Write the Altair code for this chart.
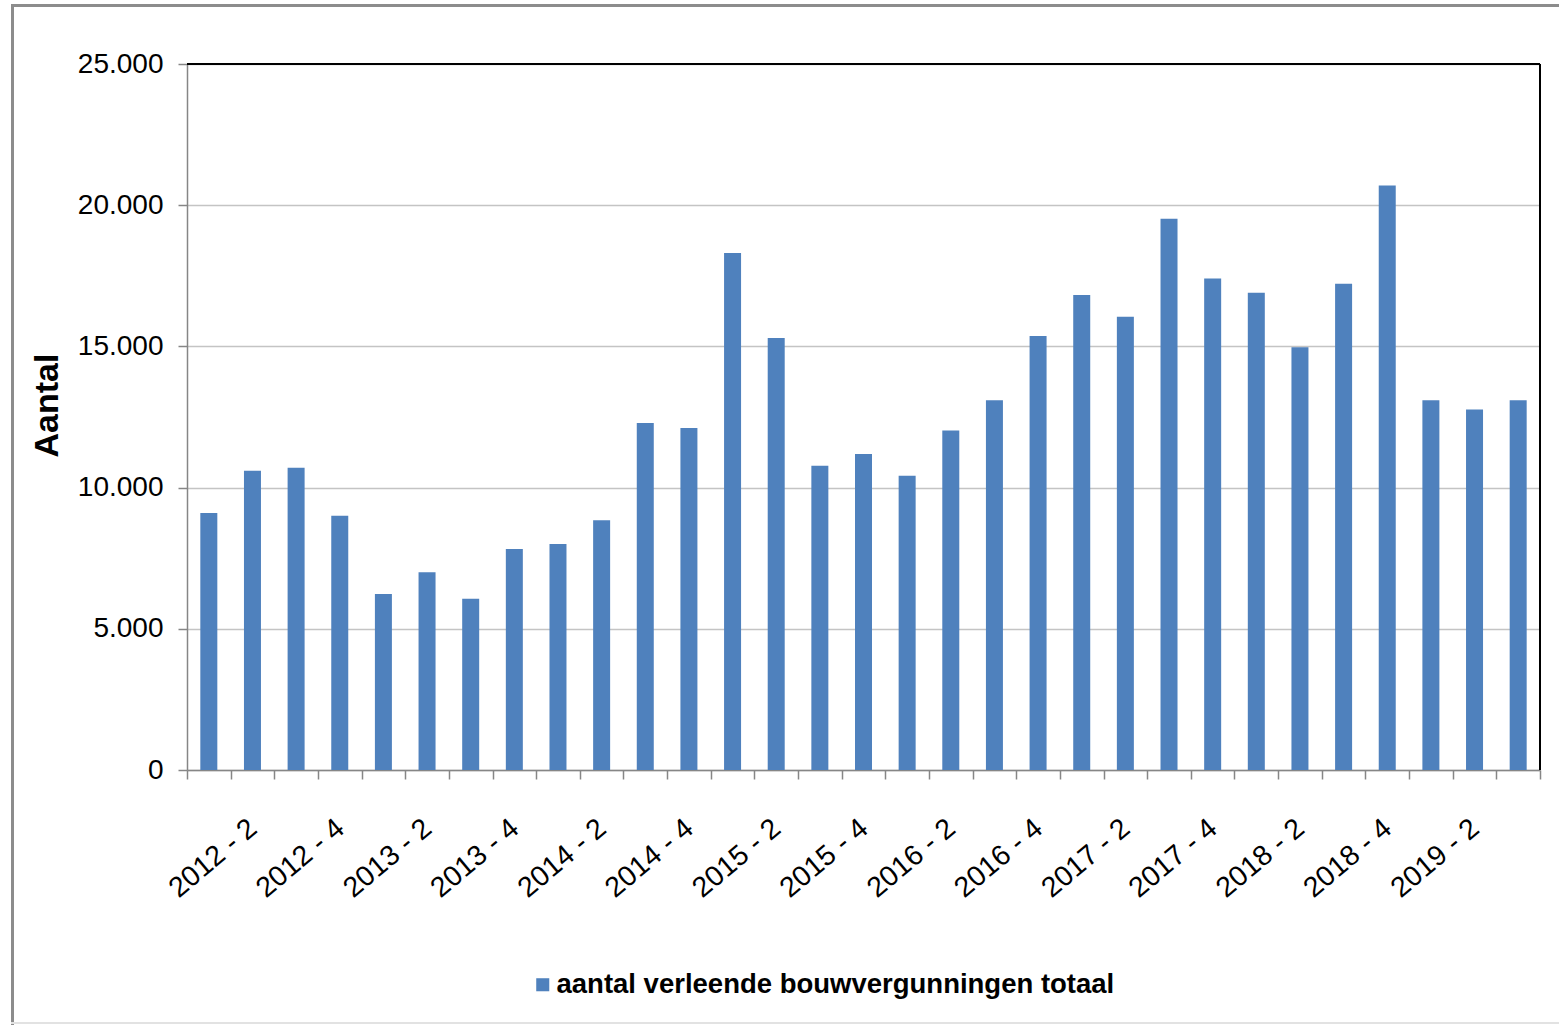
import altair as alt
import pandas as pd

# Quarterly number of granted building permits (Flanders), 2012 Q1 - 2019 Q3
kwartalen = [
    "2012 - 1", "2012 - 2", "2012 - 3", "2012 - 4",
    "2013 - 1", "2013 - 2", "2013 - 3", "2013 - 4",
    "2014 - 1", "2014 - 2", "2014 - 3", "2014 - 4",
    "2015 - 1", "2015 - 2", "2015 - 3", "2015 - 4",
    "2016 - 1", "2016 - 2", "2016 - 3", "2016 - 4",
    "2017 - 1", "2017 - 2", "2017 - 3", "2017 - 4",
    "2018 - 1", "2018 - 2", "2018 - 3", "2018 - 4",
    "2019 - 1", "2019 - 2", "2019 - 3",
]
vergunningen = [
    9100, 10600, 10700, 9000,
    6230, 7000, 6060, 7830,
    8000, 8840, 12290, 12110,
    18310, 15300, 10770, 11190,
    10420, 12020, 13090, 15370,
    16820, 16050, 19520, 17400,
    16900, 14970, 17220, 20700,
    13090, 12770, 13090,
]
reeks = "aantal verleende bouwvergunningen totaal"
y_ticks = [0, 5000, 10000, 15000, 20000, 25000]

# Layout (pixels)
W, H = 1353, 706
PAD_L, PAD_T = 187, 64
TOTAL_W, TOTAL_H = 1559, 1025

BAR_COLOR = "#4F81BD"
AXIS_GRAY = "#868686"
GRID_GRAY = "#c4c4c4"
FONT = "Liberation Sans, Arial, sans-serif"

df = pd.DataFrame({"kwartaal": kwartalen, "aantal": vergunningen, "reeks": reeks})

bars = alt.Chart(df).mark_bar(size=17).encode(
    x=alt.X(
        "kwartaal:N",
        sort=kwartalen,
        scale=alt.Scale(paddingInner=0, paddingOuter=0),
        axis=alt.Axis(
            title=None,
            tickBand="extent",
            labelAngle=320,
            labelAlign="right",
            labelBaseline="middle",
            labelExpr="test(/ - [24]$/, datum.label) ? datum.label : ''",
            labelOverlap=False,
            labelBound=False,
            labelFlush=False,
            labelFont=FONT,
            labelFontSize=28.5,
            labelColor="#000000",
            labelPadding=45,
            tickSize=9,
            tickColor=AXIS_GRAY,
            tickWidth=1.5,
            domainColor=AXIS_GRAY,
            domainWidth=1.5,
            grid=False,
        ),
    ),
    y=alt.Y(
        "aantal:Q",
        scale=alt.Scale(domain=[0, 25000], nice=False),
        axis=alt.Axis(
            values=y_ticks,
            labelExpr="replace(format(datum.value, ','), ',', '.')",
            labelFont=FONT,
            labelFontSize=28,
            labelColor="#000000",
            labelPadding=15,
            tickSize=9,
            tickColor=AXIS_GRAY,
            tickWidth=1.5,
            domainColor=AXIS_GRAY,
            domainWidth=1.5,
            grid=True,
            gridColor=GRID_GRAY,
            gridWidth=1.5,
            title="Aantal",
            titleFont=FONT,
            titleFontWeight="bold",
            titleFontSize=34,
            titleColor="#000000",
            titleAngle=270,
            titleAlign="center",
            titleBaseline="middle",
            titleX=47 - PAD_L,
            titleY=405 - PAD_T,
        ),
    ),
    color=alt.Color(
        "reeks:N",
        scale=alt.Scale(domain=[reeks], range=[BAR_COLOR]),
        legend=alt.Legend(
            title=None,
            orient="none",
            legendX=529 - PAD_L,
            legendY=971 - PAD_T,
            symbolType="square",
            symbolSize=170,
            symbolStrokeWidth=0,
            symbolOffset=0,
            labelFont=FONT,
            labelFontWeight="bold",
            labelFontSize=27.5,
            labelColor="#000000",
            labelLimit=0,
            labelOffset=0,
        ),
    ),
)

one = pd.DataFrame({"k": [0]})

# Plot-area border (top and right edges)
top_border = alt.Chart(one).mark_rule(color="#000000", strokeWidth=2).encode(
    x=alt.value(0), x2=alt.value(W), y=alt.value(0)
)
right_border = alt.Chart(one).mark_rule(color="#000000", strokeWidth=2).encode(
    x=alt.value(W), y=alt.value(0), y2=alt.value(H)
)

# Outer frame around the whole figure
frame_top = alt.Chart(one).mark_rule(color="#8c8c8c", strokeWidth=3).encode(
    x=alt.value(11 - PAD_L), x2=alt.value(TOTAL_W - PAD_L), y=alt.value(5.5 - PAD_T)
)
frame_left = alt.Chart(one).mark_rule(color="#8c8c8c", strokeWidth=3).encode(
    x=alt.value(12.5 - PAD_L), y=alt.value(4 - PAD_T), y2=alt.value(TOTAL_H - PAD_T)
)
frame_bottom = alt.Chart(one).mark_rule(color="#e2e2e2", strokeWidth=2).encode(
    x=alt.value(11 - PAD_L), x2=alt.value(TOTAL_W - PAD_L), y=alt.value(1023 - PAD_T)
)

chart = alt.layer(
    bars, top_border, right_border, frame_top, frame_left, frame_bottom
).properties(
    width=W,
    height=H,
    autosize=alt.AutoSizeParams(type="none"),
    padding={"left": PAD_L, "top": PAD_T, "right": TOTAL_W - PAD_L - W, "bottom": TOTAL_H - PAD_T - H},
    background="#ffffff",
).configure_view(stroke=None)

chart.save("out.html", embed_options={"renderer": "svg", "actions": False})
